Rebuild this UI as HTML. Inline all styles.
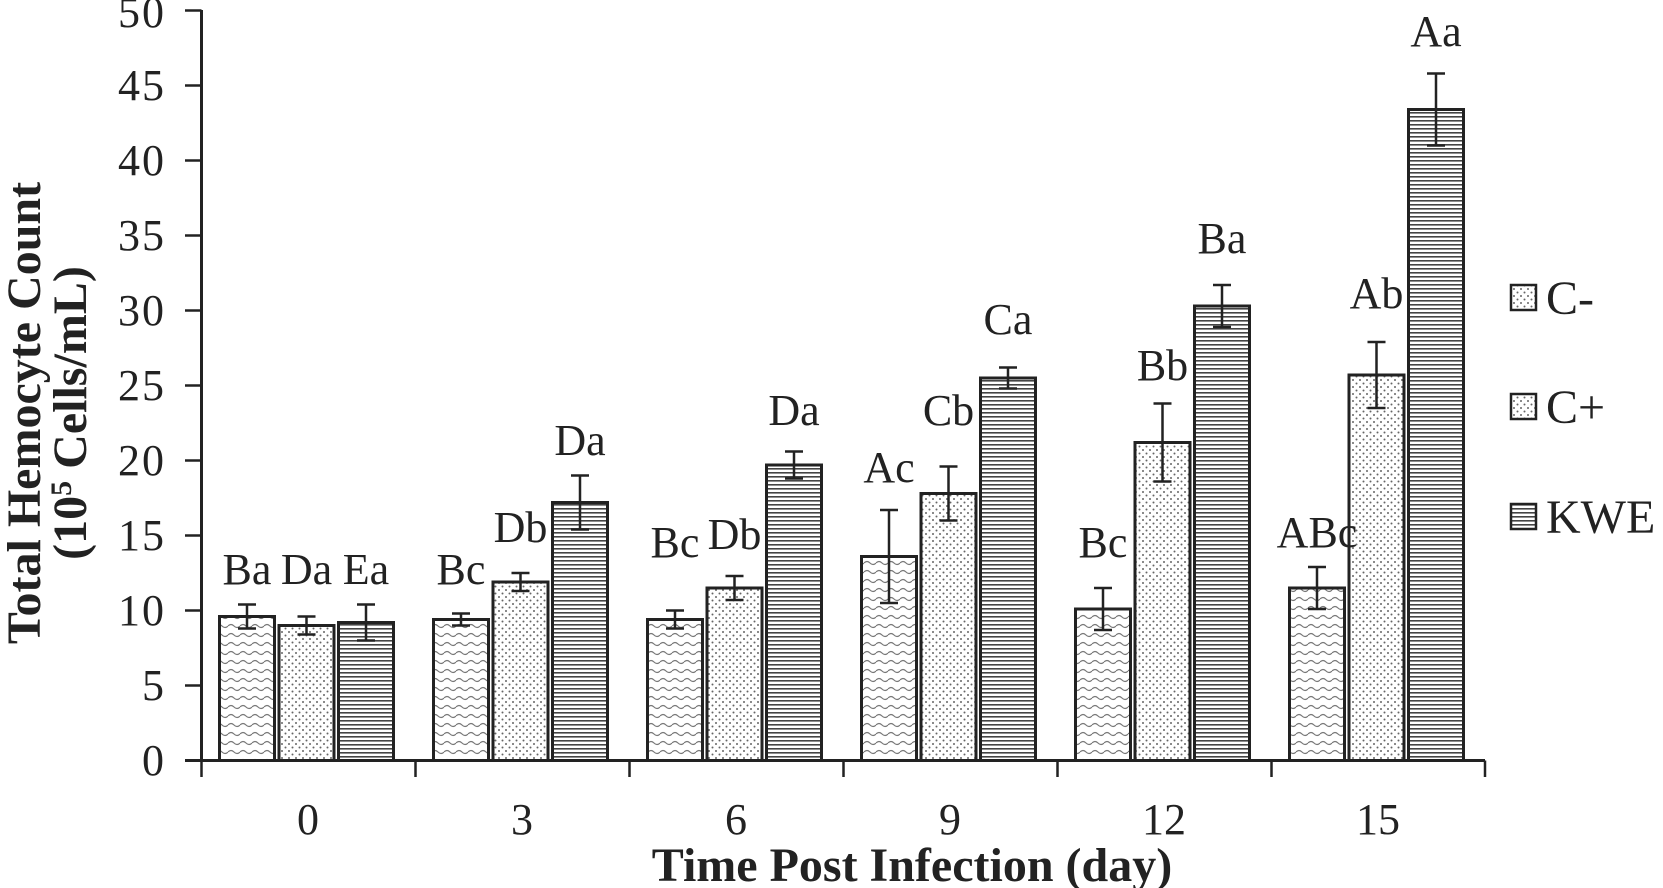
<!DOCTYPE html>
<html><head><meta charset="utf-8"><style>body{margin:0;background:#fff}svg{display:block}</style></head>
<body>
<svg width="1663" height="888" xmlns="http://www.w3.org/2000/svg" font-family="Liberation Serif, serif">
<defs>
<pattern id="wave" width="12" height="9" patternUnits="userSpaceOnUse"><rect width="12" height="9" fill="#fff"/><path d="M0 5 Q3 2 6 5 T12 5" fill="none" stroke="#777" stroke-width="1.2"/></pattern>
<pattern id="dots" width="7" height="7" patternUnits="userSpaceOnUse"><rect width="7" height="7" fill="#fff"/><circle cx="2" cy="2" r="1" fill="#666"/><circle cx="5.5" cy="5.5" r="1" fill="#666"/></pattern>
<pattern id="hl" width="6" height="4" patternUnits="userSpaceOnUse"><rect width="6" height="4" fill="#fff"/><rect y="0" width="6" height="1.6" fill="#444"/></pattern>
</defs>
<g stroke="#222" stroke-width="3">
<rect x="219.5" y="616.5" width="55" height="144" fill="url(#wave)"/>
<rect x="279" y="625.5" width="55" height="135" fill="url(#dots)"/>
<rect x="338.5" y="622.5" width="55" height="138" fill="url(#hl)"/>
<rect x="433.5" y="619.5" width="55" height="141" fill="url(#wave)"/>
<rect x="493" y="582" width="55" height="178.5" fill="url(#dots)"/>
<rect x="552.5" y="502.5" width="55" height="258" fill="url(#hl)"/>
<rect x="647.5" y="619.5" width="55" height="141" fill="url(#wave)"/>
<rect x="707" y="588" width="55" height="172.5" fill="url(#dots)"/>
<rect x="766.5" y="465" width="55" height="295.5" fill="url(#hl)"/>
<rect x="861.5" y="556.5" width="55" height="204" fill="url(#wave)"/>
<rect x="921" y="493.5" width="55" height="267" fill="url(#dots)"/>
<rect x="980.5" y="378" width="55" height="382.5" fill="url(#hl)"/>
<rect x="1075.5" y="609" width="55" height="151.5" fill="url(#wave)"/>
<rect x="1135" y="442.5" width="55" height="318" fill="url(#dots)"/>
<rect x="1194.5" y="306" width="55" height="454.5" fill="url(#hl)"/>
<rect x="1289.5" y="588" width="55" height="172.5" fill="url(#wave)"/>
<rect x="1349" y="375" width="55" height="385.5" fill="url(#dots)"/>
<rect x="1408.5" y="109.5" width="55" height="651" fill="url(#hl)"/>
</g>
<g stroke="#222" stroke-width="2.5" fill="none">
<path d="M247 604.5V628.5M238 604.5H256M238 628.5H256"/>
<path d="M306.5 616.5V634.5M297.5 616.5H315.5M297.5 634.5H315.5"/>
<path d="M366 604.5V640.5M357 604.5H375M357 640.5H375"/>
<path d="M461 613.5V625.5M452 613.5H470M452 625.5H470"/>
<path d="M520.5 573V591M511.5 573H529.5M511.5 591H529.5"/>
<path d="M580 475.5V529.5M571 475.5H589M571 529.5H589"/>
<path d="M675 610.5V628.5M666 610.5H684M666 628.5H684"/>
<path d="M734.5 576V600M725.5 576H743.5M725.5 600H743.5"/>
<path d="M794 451.5V478.5M785 451.5H803M785 478.5H803"/>
<path d="M889 510V603M880 510H898M880 603H898"/>
<path d="M948.5 466.5V520.5M939.5 466.5H957.5M939.5 520.5H957.5"/>
<path d="M1008 367.5V388.5M999 367.5H1017M999 388.5H1017"/>
<path d="M1103 588V630M1094 588H1112M1094 630H1112"/>
<path d="M1162.5 403.5V481.5M1153.5 403.5H1171.5M1153.5 481.5H1171.5"/>
<path d="M1222 285V327M1213 285H1231M1213 327H1231"/>
<path d="M1317 567V609M1308 567H1326M1308 609H1326"/>
<path d="M1376.5 342V408M1367.5 342H1385.5M1367.5 408H1385.5"/>
<path d="M1436 73.5V145.5M1427 73.5H1445M1427 145.5H1445"/>
<path d="M201.5 10V760.5M185 760.5H1485" stroke-width="3"/>
<path d="M185 760.5H201.5M185 685.5H201.5M185 610.5H201.5M185 535.5H201.5M185 460.5H201.5M185 385.5H201.5M185 310.5H201.5M185 235.5H201.5M185 160.5H201.5M185 85.5H201.5M185 10.5H201.5"/>
<path d="M201.5 760.5V777M415.5 760.5V777M629.5 760.5V777M843.5 760.5V777M1057.5 760.5V777M1271.5 760.5V777M1485 760.5V777"/>
</g>
<g font-size="44" fill="#222" text-anchor="middle">
<text x="247" y="584">Ba</text><text x="306.5" y="584">Da</text><text x="366" y="584">Ea</text>
<text x="461" y="584">Bc</text><text x="520.5" y="542">Db</text><text x="580" y="455">Da</text>
<text x="675" y="557">Bc</text><text x="734.5" y="549">Db</text><text x="794" y="425">Da</text>
<text x="889" y="482">Ac</text><text x="948.5" y="425">Cb</text><text x="1008" y="334">Ca</text>
<text x="1103" y="557">Bc</text><text x="1162.5" y="380">Bb</text><text x="1222" y="253">Ba</text>
<text x="1317" y="547">ABc</text><text x="1376.5" y="308">Ab</text><text x="1436" y="46">Aa</text>
</g>
<g font-size="44" fill="#222" text-anchor="end" letter-spacing="2">
<text x="166" y="775">0</text><text x="166" y="700">5</text><text x="166" y="625">10</text><text x="166" y="550">15</text><text x="166" y="475">20</text><text x="166" y="400">25</text><text x="166" y="325">30</text><text x="166" y="250">35</text><text x="166" y="175">40</text><text x="166" y="100">45</text><text x="166" y="27">50</text>
</g>
<g font-size="44" fill="#222" text-anchor="middle">
<text x="308" y="834">0</text><text x="522" y="834">3</text><text x="736" y="834">6</text><text x="950" y="834">9</text><text x="1164" y="834">12</text><text x="1378" y="834">15</text>
</g>
<text x="912" y="881" font-size="48" font-weight="bold" text-anchor="middle" fill="#222">Time Post Infection (day)</text>
<g font-size="48" font-weight="bold" fill="#222" text-anchor="middle">
<text transform="translate(40,413) rotate(-90)">Total Hemocyte Count</text>
<text transform="translate(86,413) rotate(-90)">(10<tspan font-size="30" dy="-15">5</tspan><tspan dy="15"> Cells/mL)</tspan></text>
</g>
<g stroke="#222" stroke-width="2.5">
<rect x="1511" y="285" width="25" height="25" fill="url(#dots)"/>
<rect x="1511" y="394" width="25" height="25" fill="url(#dots)"/>
<rect x="1511" y="504" width="25" height="25" fill="url(#hl)"/>
</g>
<g font-size="48" fill="#222">
<text x="1546" y="314">C-</text><text x="1546" y="423">C+</text><text x="1546" y="533">KWE</text>
</g>
</svg>
</body></html>
